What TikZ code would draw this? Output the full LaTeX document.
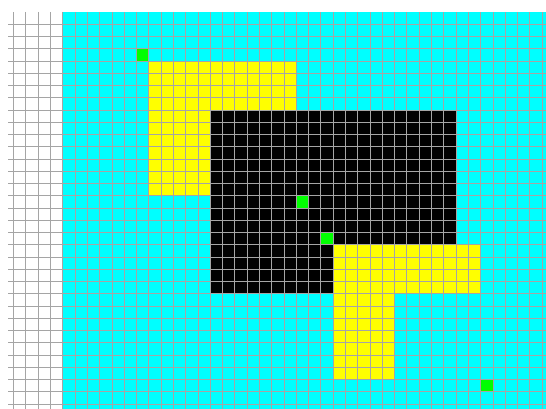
\documentclass[tikz,border=0pt]{standalone}
\definecolor{cellcyan}{RGB}{0,255,255}
\definecolor{cellyellow}{RGB}{255,255,0}
\definecolor{cellgreen}{RGB}{0,255,0}
\definecolor{gridgray}{RGB}{165,165,165}
\tikzset{
  cyanfill/.style={fill=cellcyan},
  yellowfill/.style={fill=cellyellow},
  blackfill/.style={fill=black},
  greenfill/.style={fill=cellgreen},
  gridline/.style={draw=gridgray, line width=0.7pt},
}
\begin{document}
\begin{tikzpicture}[x=1pt,y=-1pt]
\useasboundingbox (0,0) rectangle (546,409);
\clip (0,0) rectangle (546,409);
\begin{scope}[shift={(62.7,12)}, x=12.29pt, y=-12.25pt]
  % background
  \path[cyanfill] (0,0) rectangle (39.4,32.5);
  % upper-left yellow block
  \path[yellowfill] (7,4) rectangle (19,15);
  % black block
  \path[blackfill] (12,8) rectangle (32,23);
  % lower-right yellow shape
  \path[yellowfill] (22,19) rectangle (34,23);
  \path[yellowfill] (22,23) rectangle (27,30);
  % green cells
  \path[greenfill] (6,3) rectangle (7,4);
  \path[greenfill] (19,15) rectangle (20,16);
  \path[greenfill] (21,18) rectangle (22,19);
  \path[greenfill] (34,30) rectangle (35,31);
  % grid
  \foreach \i in {-4,...,39} {
    \draw[gridline] (\i,0) -- (\i,32.5);
  }
  \foreach \j in {1,...,32} {
    \draw[gridline] (-4.45,\j) -- (39.4,\j);
  }
\end{scope}
\end{tikzpicture}
\end{document}
